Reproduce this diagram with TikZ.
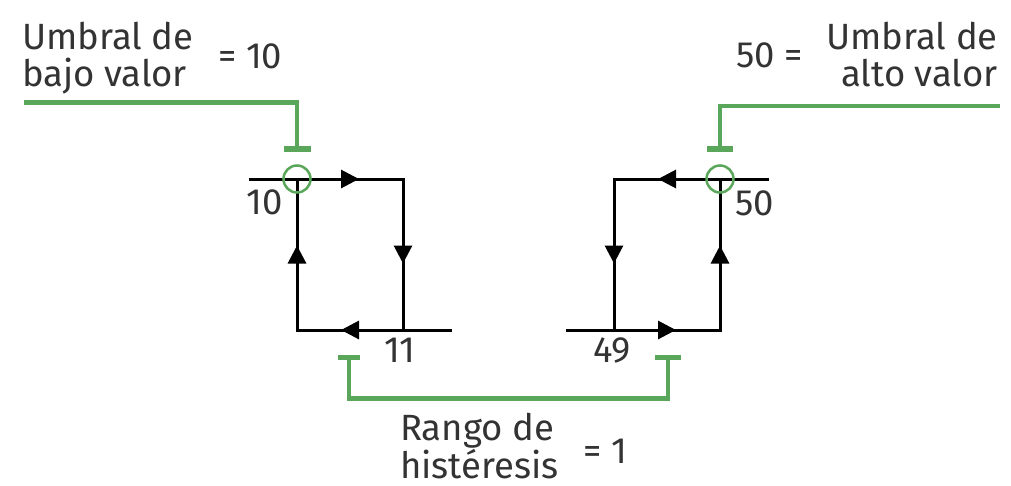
\documentclass[tikz,border=0pt]{standalone}
\usepackage{fontspec}
\setmainfont{Fira Sans}
\usetikzlibrary{arrows.meta,decorations.markings}
\definecolor{grn}{RGB}{90,166,90}
\definecolor{txt}{RGB}{51,51,51}
\begin{document}
\begin{tikzpicture}[x=1pt,y=-1pt,
  loopline/.style={line width=3pt, black, line cap=rect},
  midarr/.style={postaction={decorate},decoration={markings,
      mark=at position 0.5 with {\arrow[xshift=9pt]{Triangle[length=18pt,width=18pt]}}}},
  gline/.style={grn, line width=4.5pt},
  tbar/.style={grn, line width=5.5pt},
  lbl/.style={font=\fontsize{36.5}{37}\selectfont, text=txt, inner sep=0pt},
  ring/.style={circle, draw=grn, line width=2.5pt, minimum size=27pt, inner sep=0pt}
]
\useasboundingbox (0,0) rectangle (1011,485);
\fill[white] (0,0) rectangle (1011,485);

% ---- left loop
\coordinate (LA) at (297,179);
\coordinate (LB) at (403,179);
\coordinate (LC) at (403,330);
\coordinate (LD) at (297,330);
\coordinate (Ls) at (250,179);
\coordinate (Le) at (450,330);
\draw[loopline] (Ls) -- (LA);
\draw[loopline] (LC) -- (Le);
\draw[loopline,midarr] (LA) -- (LB);
\draw[loopline,midarr] (LB) -- (LC);
\draw[loopline,midarr] (LC) -- (LD);
\draw[loopline,midarr] (LD) -- (LA);
\node[ring] (lring) at (LA) {};

% ---- right loop
\coordinate (RA) at (720,179);
\coordinate (RB) at (614,179);
\coordinate (RC) at (614,330);
\coordinate (RD) at (720,330);
\coordinate (Rs) at (767,179);
\coordinate (Re) at (567,330);
\draw[loopline] (RA) -- (Rs);
\draw[loopline] (Re) -- (RC);
\draw[loopline,midarr] (RA) -- (RB);
\draw[loopline,midarr] (RB) -- (RC);
\draw[loopline,midarr] (RC) -- (RD);
\draw[loopline,midarr] (RD) -- (RA);
\node[ring] (rring) at (RA) {};

% ---- number labels
\node[lbl, anchor=north east] (n10) at (283,190) {10};
\node[lbl, anchor=north] (n11) at (400,338) {11};
\node[lbl, anchor=north] (n49) at (612,338) {49};
\node[lbl, anchor=north west] (n50) at (735,191) {50};

% ---- green markers
\coordinate (gl0) at (24,102.5);
\coordinate (gl1) at (297,149);
\draw[gline] (gl0) -| (gl1);
\coordinate (glb1) at (284,149);
\coordinate (glb2) at (311,149);
\draw[tbar] (glb1) -- (glb2);

\coordinate (gr0) at (1000,106);
\coordinate (gr1) at (720,149);
\draw[gline] (gr0) -| (gr1);
\coordinate (grb1) at (707,149);
\coordinate (grb2) at (733,149);
\draw[tbar] (grb1) -- (grb2);

\coordinate (hb1) at (349,357);
\coordinate (hb2) at (668,357);
\coordinate (hbl) at (349,398.5);
\coordinate (hbr) at (668,398.5);
\draw[gline] (hb1) -- (hbl) -- (hbr) -- (hb2);
\coordinate (hl1) at (338,357.5);
\coordinate (hl2) at (360,357.5);
\coordinate (hr1) at (655,357.5);
\coordinate (hr2) at (681,357.5);
\draw[tbar] (hl1) -- (hl2);
\draw[tbar] (hr1) -- (hr2);

% ---- texts
\node[lbl, anchor=north west, align=left] (tlow) at (22,22) {Umbral de\\bajo valor};
\node[lbl, anchor=north west] (tlowv) at (218,44) {= 10};
\node[lbl, anchor=north east, align=right] (thigh) at (998,22) {Umbral de\\alto valor};
\node[lbl, anchor=north east] (thighv) at (803,43) {50 =};
\node[lbl, anchor=north west, align=left, font=\fontsize{36.5}{36}\selectfont] (thys) at (400,413) {Rango de\\histéresis};
\node[lbl, anchor=north west] (thysv) at (583,439) {= 1};
\end{tikzpicture}
\end{document}
